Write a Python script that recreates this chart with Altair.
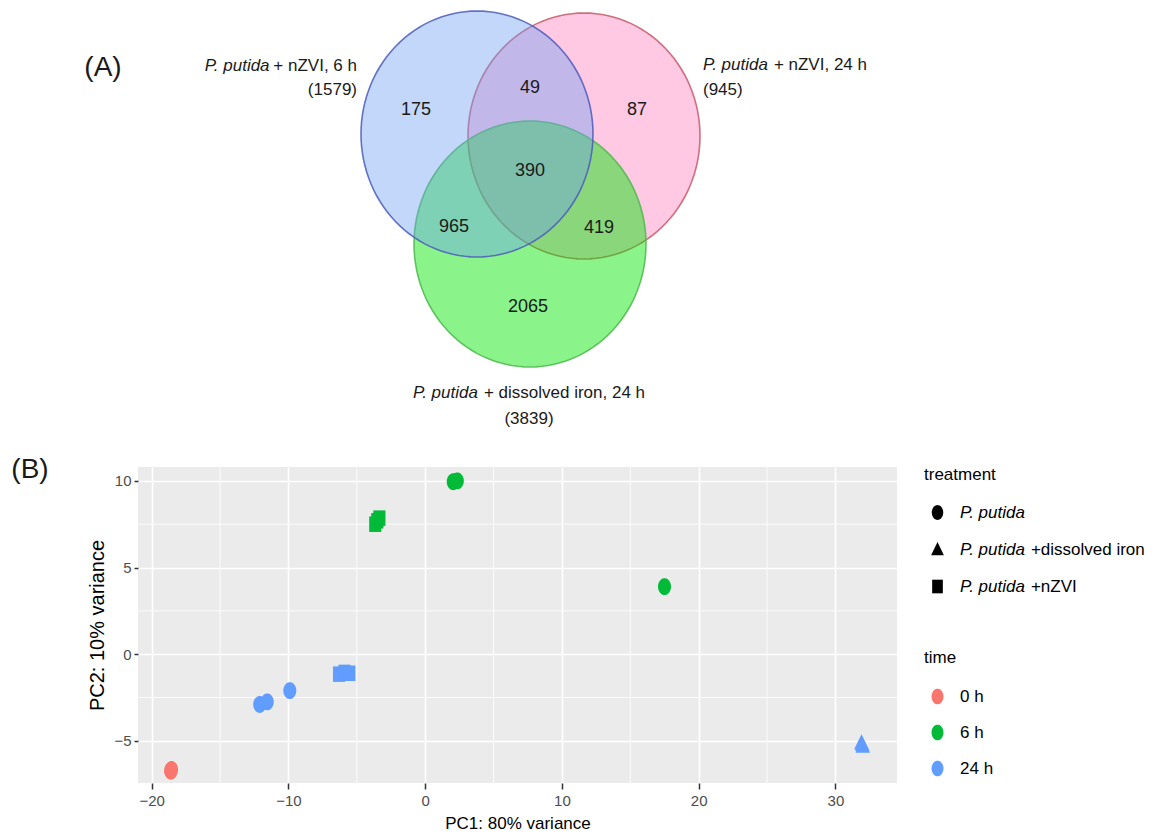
import math
import altair as alt
import pandas as pd

FONT = "Liberation Sans"

# ---------------- Panel B: PCA scores ----------------
PC1 = [-18.6, -18.55, -18.6, 2.05, 2.35, 17.5, -3.65, -3.5, -3.35,
       -12.1, -11.55, -9.9, -6.3, -5.9, -5.55, 31.9, 32.0, 31.95]
PC2 = [-6.75, -6.65, -6.7, 9.95, 10.0, 3.9, 7.5, 7.7, 7.85,
       -2.9, -2.75, -2.1, -1.15, -1.05, -1.1, -5.1, -5.3, -5.2]
TIME = ["0 h"] * 3 + ["6 h"] * 6 + ["24 h"] * 9
TREATMENT = (["P. putida"] * 6 + ["P. putida +nZVI"] * 3 + ["P. putida"] * 3
             + ["P. putida +nZVI"] * 3 + ["P. putida +dissolved iron"] * 3)

TIME_LEVELS = ["0 h", "6 h", "24 h"]
TIME_COLORS = ["#F8766D", "#00BA38", "#619CFF"]
TREAT_LEVELS = ["P. putida", "P. putida +dissolved iron", "P. putida +nZVI"]

X_TICKS = [-20, -10, 0, 10, 20, 30]
Y_TICKS = [-5, 0, 5, 10]
X_MINOR = [-15, -5, 5, 15, 25]
Y_MINOR = [-2.5, 2.5, 7.5]
X_DOMAIN = [-21.0, 34.5]
Y_DOMAIN = [-7.43, 10.8]

# ---------------- Panel A: Venn diagram (page pixel coordinates) ----------------
VENN_SETS = ["nZVI 24 h", "dissolved iron 24 h", "nZVI 6 h"]
VENN_CX = [584, 530, 477]
VENN_CY = [136, 244, 134]
VENN_RX = [116, 116, 116]
VENN_RY = [123, 123, 123]
VENN_FILL = ["#ff8cc5", "#00e800", "#6e9ff0"]
VENN_OPACITY = [0.48, 0.46, 0.42]
VENN_STROKE = ["#c85a6a", "#4cb84c", "#4a5cbc"]

REGION_COUNTS = ["175", "49", "87", "390", "965", "419", "2065"]
REGION_X = [416, 530, 637, 530, 454, 599, 528]
REGION_Y = [110, 88, 110, 171, 227, 228, 307]

SET_TOTALS = ["(1579)", "(945)", "(3839)"]
PANEL_TAGS = ["(A)", "(B)"]

# plot-area frame of panel B in page pixels
PLOT_L, PLOT_T, PLOT_W, PLOT_H = 138, 467, 759, 316
TOTAL_W, TOTAL_H = 1152, 830

# Arial / Liberation Sans advance widths (1/1000 em)
W = {" ": 278, "+": 584, ",": 278, ".": 278, "(": 333, ")": 333, "P": 667,
     "Z": 611, "V": 667, "I": 278, "a": 556, "d": 556, "e": 556, "h": 556,
     "i": 222, "l": 222, "n": 556, "o": 556, "p": 556, "r": 333, "s": 500,
     "t": 278, "u": 556, "v": 500}


def tw(s, size):
    return sum(W.get(c, 556) for c in s) * size / 1000.0


def ellipse_path(rx, ry, n=120):
    m = max(rx, ry)
    pts = []
    for k in range(n):
        t = 2 * math.pi * k / n
        pts.append(f"{rx / m * math.cos(t):.4f},{ry / m * math.sin(t):.4f}")
    return "M" + "L".join(pts) + "Z"


# the source figure is stretched vertically: symbols are taller than wide
SYM_ELLIPSE = ellipse_path(0.77, 1.0, 48)
SYM_TRIANGLE = "M0,-1L0.86,0.78L-0.86,0.78Z"
SYM_RECT = "M-0.72,-0.92L0.72,-0.92L0.72,0.92L-0.72,0.92Z"
TREAT_SHAPES = [SYM_ELLIPSE, SYM_TRIANGLE, SYM_RECT]

LAB = 17  # label font size
ITAL = "P. putida"
GAP = tw(ITAL, LAB) + 0.8 * tw(" ", LAB)

# set labels: italic part + normal part
lab1_norm_right = 357
lab1_ital_right = lab1_norm_right - tw("+ nZVI, 6 h", LAB) - 0.8 * tw(" ", LAB)
lab2_left = 703
lab3_total = GAP + tw("+ dissolved iron, 24 h", LAB)
lab3_left = 529 - lab3_total / 2

ital_df = pd.DataFrame({
    "text": [ITAL, ITAL, ITAL],
    "px": [lab1_ital_right, lab2_left, lab3_left],
    "py": [66, 65, 393],
    "al": ["right", "left", "left"],
})
norm_df = pd.DataFrame({
    "text": ["+ nZVI, 6 h", "+ nZVI, 24 h", "+ dissolved iron, 24 h",
             SET_TOTALS[0], SET_TOTALS[1], SET_TOTALS[2]],
    "px": [lab1_norm_right, lab2_left + GAP, lab3_left + GAP, 357, 703, 529],
    "py": [66, 65, 393, 90, 90, 419],
    "al": ["right", "left", "left", "right", "left", "center"],
})

# legend geometry (page pixels)
LEG_X = 924
LEG_LABEL_X = 960
LEG_ROWS_T = [513, 550, 587]
suffix_df = pd.DataFrame({
    "text": ["+dissolved iron", "+nZVI"],
    "px": [LEG_LABEL_X + GAP] * 2,
    "py": LEG_ROWS_T[1:],
})

tags_df = pd.DataFrame({"text": PANEL_TAGS, "px": [103, 30], "py": [68, 470]})
nums_df = pd.DataFrame({"text": REGION_COUNTS, "px": REGION_X, "py": REGION_Y})

venn_df = pd.DataFrame({
    "set": VENN_SETS, "px": VENN_CX, "py": VENN_CY,
    "shape": [ellipse_path(a, b) for a, b in zip(VENN_RX, VENN_RY)],
    "size": [(2 * max(a, b)) ** 2 for a, b in zip(VENN_RX, VENN_RY)],
    "fill": VENN_FILL, "stroke": VENN_STROKE, "op": VENN_OPACITY,
})

pts = pd.DataFrame({"pc1": PC1, "pc2": PC2, "time": TIME, "treatment": TREATMENT})
xminor = pd.DataFrame({"pc1": X_MINOR})
yminor = pd.DataFrame({"pc2": Y_MINOR})

XS = alt.Scale(domain=X_DOMAIN, nice=False, zero=False)
YS = alt.Scale(domain=Y_DOMAIN, nice=False, zero=False)
X_T = "PC1: 80% variance"
Y_T = "PC2: 10% variance"
xaxis = alt.Axis(values=X_TICKS)
yaxis = alt.Axis(values=Y_TICKS)

minor_x = alt.Chart(xminor).mark_rule(color="white", strokeWidth=0.8).encode(
    x=alt.X("pc1:Q", scale=XS, axis=xaxis, title=X_T))
minor_y = alt.Chart(yminor).mark_rule(color="white", strokeWidth=0.8).encode(
    y=alt.Y("pc2:Q", scale=YS, axis=yaxis, title=Y_T))

points = alt.Chart(pts).mark_point(filled=True, opacity=1, size=285).encode(
    x=alt.X("pc1:Q", scale=XS, axis=xaxis, title=X_T),
    y=alt.Y("pc2:Q", scale=YS, axis=yaxis, title=Y_T),
    color=alt.Color("time:N", scale=alt.Scale(domain=TIME_LEVELS, range=TIME_COLORS),
                    legend=alt.Legend(orient="none", legendX=LEG_X - PLOT_L,
                                      legendY=658 - 8 - PLOT_T, title="time",
                                      symbolType=SYM_ELLIPSE, symbolSize=240,
                                      symbolStrokeWidth=0, symbolOffset=5,
                                      labelOffset=14, rowPadding=18, titlePadding=21)),
    shape=alt.Shape("treatment:N", scale=alt.Scale(domain=TREAT_LEVELS, range=TREAT_SHAPES),
                    legend=alt.Legend(orient="none", legendX=LEG_X - PLOT_L,
                                      legendY=475 - 8 - PLOT_T, title="treatment",
                                      labelExpr="'P. putida'", labelFontStyle="italic",
                                      symbolFillColor="black", symbolStrokeColor="black",
                                      symbolSize=220, symbolStrokeWidth=0, symbolOffset=5,
                                      labelOffset=14, rowPadding=19, titlePadding=20)),
    order=alt.Order("time:N"),
)

scatter = alt.layer(minor_x, minor_y, points)

VX = alt.Scale(domain=[PLOT_L, PLOT_L + PLOT_W], nice=False, zero=False)
VY = alt.Scale(domain=[PLOT_T, PLOT_T + PLOT_H], reverse=True, nice=False, zero=False)


def vxy():
    return dict(x=alt.X("px:Q", scale=VX, axis=None), y=alt.Y("py:Q", scale=VY, axis=None))


ellipses = alt.Chart(venn_df).mark_point(
    filled=True, opacity=1, strokeOpacity=0.85, strokeWidth=1.6
).encode(
    shape=alt.Shape("shape:N", scale=None),
    size=alt.Size("size:Q", scale=None),
    fill=alt.Fill("fill:N", scale=None),
    fillOpacity=alt.FillOpacity("op:Q", scale=None),
    stroke=alt.Stroke("stroke:N", scale=None),
    **vxy(),
)

nums = alt.Chart(nums_df).mark_text(font=FONT, fontSize=18, color="#1a1a1a",
                                    baseline="middle", align="center").encode(
    text="text:N", **vxy())

ital_l = alt.Chart(ital_df[ital_df.al == "right"]).mark_text(
    font=FONT, fontSize=LAB, fontStyle="italic", color="#1a1a1a", baseline="middle",
    align="right").encode(text="text:N", **vxy())
ital_r = alt.Chart(ital_df[ital_df.al == "left"]).mark_text(
    font=FONT, fontSize=LAB, fontStyle="italic", color="#1a1a1a", baseline="middle",
    align="left").encode(text="text:N", **vxy())
norm_marks = []
for al in ["left", "right", "center"]:
    norm_marks.append(alt.Chart(norm_df[norm_df.al == al]).mark_text(
        font=FONT, fontSize=LAB, color="#1a1a1a", baseline="middle",
        align=al).encode(text="text:N", **vxy()))

suffix = alt.Chart(suffix_df).mark_text(font=FONT, fontSize=LAB, color="#000000",
                                        baseline="middle", align="left").encode(
    text="text:N", **vxy())

tags = alt.Chart(tags_df).mark_text(font=FONT, fontSize=28, color="#1a1a1a",
                                    baseline="middle", align="center").encode(
    text="text:N", **vxy())

venn = alt.layer(ellipses, nums, ital_l, ital_r, *norm_marks, suffix, tags)

chart = alt.layer(scatter, venn).resolve_scale(
    x="independent", y="independent", shape="independent", size="independent"
).properties(
    width=PLOT_W, height=PLOT_H,
    autosize=alt.AutoSizeParams(type="none"),
    padding={"left": PLOT_L - 8, "top": PLOT_T - 8,
             "right": TOTAL_W - (PLOT_L - 8) - PLOT_W,
             "bottom": TOTAL_H - (PLOT_T - 8) - PLOT_H},
).configure_view(
    fill="#EBEBEB", stroke=None
).configure_axis(
    labelFont=FONT, titleFont=FONT, labelColor="#4D4D4D", labelFontSize=15,
    titleFontSize=17, titleFontWeight="normal", titleColor="#000000",
    tickColor="#333333", tickWidth=1.5, domain=False,
    grid=True, gridColor="white", gridWidth=1.6,
).configure_axisX(
    tickSize=6, labelPadding=4, titlePadding=7
).configure_axisY(
    tickSize=4, labelPadding=3, titlePadding=6, titleFontSize=20
).configure_legend(
    titleFont=FONT, labelFont=FONT, titleFontSize=17, labelFontSize=17,
    titleFontWeight="normal", titleColor="#000000", labelColor="#000000",
    padding=0,
)

chart.save("out.html", embed_options={"renderer": "svg", "actions": False})
